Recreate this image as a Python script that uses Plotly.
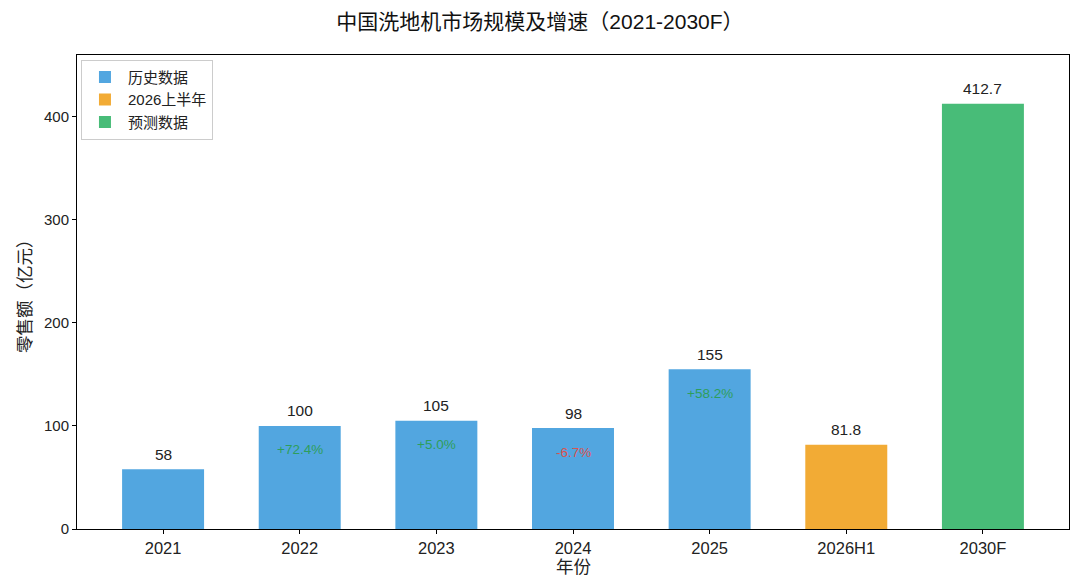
import plotly.graph_objects as go

# 数据
years = ["2021", "2022", "2023", "2024", "2025", "2026H1", "2030F"]
sales = [58, 100, 105, 98, 155, 81.8, 412.7]
groups = ["历史数据", "历史数据", "历史数据", "历史数据", "历史数据", "2026上半年", "预测数据"]
growth = [None, "+72.4%", "+5.0%", "-6.7%", "+58.2%", None, None]
value_labels = ["58", "100", "105", "98", "155", "81.8", "412.7"]

colors = {"历史数据": "#52A6E0", "2026上半年": "#F2AB35", "预测数据": "#48BC78"}
FONT = "Liberation Sans, Noto Sans CJK SC, sans-serif"

fig = go.Figure()

for g in ["历史数据", "2026上半年", "预测数据"]:
    xs = [y for y, gg in zip(years, groups) if gg == g]
    ys = [v for v, gg in zip(sales, groups) if gg == g]
    fig.add_trace(go.Bar(
        x=xs, y=ys, name=g, width=0.6,
        marker=dict(color=colors[g], line=dict(width=0)),
    ))

# 数值标签 (category axis -> use index for position)
for i, (v, lab) in enumerate(zip(sales, value_labels)):
    fig.add_annotation(x=i, y=v, text=lab, showarrow=False, yshift=15,
                       font=dict(size=15.5, color="#222222"))

# 增速标签
for i, (v, gr) in enumerate(zip(sales, growth)):
    if gr is None:
        continue
    c = "#D9534F" if gr.startswith("-") else "#2E9E5B"
    fig.add_annotation(x=i, y=v, text=gr, showarrow=False, yshift=-24,
                       font=dict(size=13.5, color=c))

# 轴标题
fig.add_annotation(xref="paper", yref="paper", x=0.5, y=0, yshift=-38, yanchor="middle",
                   text="年份", showarrow=False, font=dict(size=17.5, color="#222222"))
fig.add_annotation(xref="paper", yref="paper", x=0, y=0.5, xshift=-52, xanchor="center",
                   yanchor="middle", textangle=-90,
                   text="零售额（亿元）", showarrow=False, font=dict(size=17.5, color="#222222"))

fig.update_layout(
    autosize=True,
    title=dict(text="中国洗地机市场规模及增速（2021-2030F）", x=0.5, xanchor="center",
               y=0.9755, yanchor="middle", font=dict(size=21, color="#111111")),
    font=dict(family=FONT, size=15, color="#222222"),
    barmode="overlay",
    plot_bgcolor="white", paper_bgcolor="white",
    margin=dict(l=69, r=3, t=47, b=51, autoexpand=False),
    showlegend=True,
    legend=dict(x=0.004, y=0.99, xanchor="left", yanchor="top",
                bordercolor="#CCCCCC", borderwidth=1, bgcolor="white",
                font=dict(size=15), tracegroupgap=0, itemwidth=36),
    xaxis=dict(type="category", range=[-0.63, 6.63], showline=True, linecolor="black",
               linewidth=1, mirror=True, ticks="outside", ticklen=4, tickcolor="black",
               tickfont=dict(size=16.5), showgrid=False, automargin=False),
    yaxis=dict(range=[0, 460], showline=True, linecolor="black", linewidth=1,
               mirror=True, ticks="outside", ticklen=4, tickcolor="black",
               tickvals=[0, 100, 200, 300, 400], tickfont=dict(size=15),
               showgrid=False, zeroline=False, automargin=False),
)

fig.write_html("out.html")
